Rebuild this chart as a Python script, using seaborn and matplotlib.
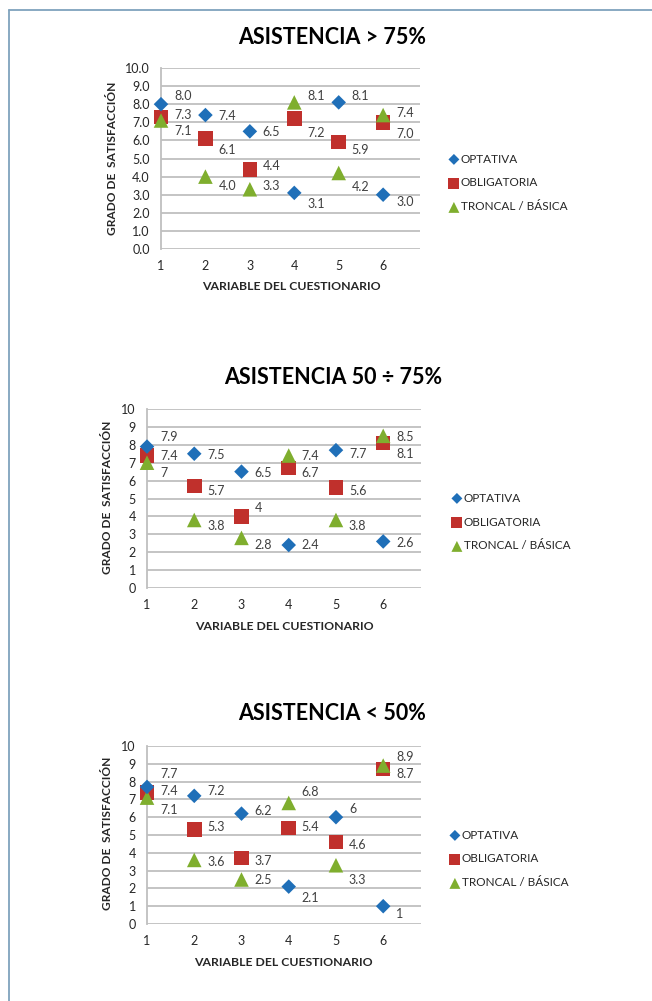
import pandas as pd
import matplotlib
matplotlib.use('Agg')
import matplotlib.pyplot as plt
import seaborn as sns
from matplotlib.lines import Line2D

sns.set_style('white')
plt.rcParams['font.family'] = ['Lato', 'DejaVu Sans']

variables = [1, 2, 3, 4, 5, 6]
series_names = ['OPTATIVA', 'OBLIGATORIA', 'TRONCAL / BÁSICA']

titles = ['ASISTENCIA > 75%', 'ASISTENCIA 50 ÷ 75%', 'ASISTENCIA < 50%']
# asistencia > 75%
opt_75 = [8.0, 7.4, 6.5, 3.1, 8.1, 3.0]
obl_75 = [7.3, 6.1, 4.4, 7.2, 5.9, 7.0]
tro_75 = [7.1, 4.0, 3.3, 8.1, 4.2, 7.4]
# asistencia 50-75%
opt_50 = [7.9, 7.5, 6.5, 2.4, 7.7, 2.6]
obl_50 = [7.4, 5.7, 4, 6.7, 5.6, 8.1]
tro_50 = [7, 3.8, 2.8, 7.4, 3.8, 8.5]
# asistencia < 50%
opt_lt = [7.7, 7.2, 6.2, 2.1, 6, 1]
obl_lt = [7.4, 5.3, 3.7, 5.4, 4.6, 8.7]
tro_lt = [7.1, 3.6, 2.5, 6.8, 3.3, 8.9]

# label text as printed in each chart
fmt = ['{:.1f}', '{:g}', '{:g}']

# vertical offset (pixels, down positive) of each data label
lab_dy = [
    [[-8, 1, 1, 11, -6, 7], [-2, 11, -3, 14, 8, 12], [11, 9, -3, -6, 14, -2]],
    [[-10, 1, 1, 0, 4, 2], [0, 5, -8, 5, 3, 11], [10, 6, 7, 0, 6, 1]],
    [[-13, -5, -3, 11, -8, 8], [-1, -3, 3, -1, 3, 5], [12, 2, 1, -11, 15, -9]],
]

colors = ['#1f6fb8', '#c0302c', '#7fae2e']
markers = ['D', 's', '^']
sizes = [55, 110, 110]

W, H = 652, 1001
fig = plt.figure(figsize=(W / 100, H / 100), dpi=100)

# axes boxes in pixels: left, top, right, bottom, xmax
boxes = [(161, 68, 420, 249, 6.83), (147, 409, 421, 588, 6.8), (147, 746, 421, 924, 6.8)]
title_pos = [(332, 38), (333, 378), (332, 714)]
ylab_pos = [(113, 158), (108, 497), (108, 833)]
xlab_pos = [(291, 287), (284, 627), (283, 963)]
leg_pos = [(448, 183), (451, 522), (449, 859)]

data = [[opt_75, obl_75, tro_75], [opt_50, obl_50, tro_50], [opt_lt, obl_lt, tro_lt]]

for k in range(3):
    l, t, r, b, xmax = boxes[k]
    ax = fig.add_axes([l / W, 1 - b / H, (r - l) / W, (b - t) / H])
    rows = []
    for name, vals in zip(series_names, data[k]):
        for x, v in zip(variables, vals):
            rows.append({'variable': x, 'valor': v, 'tipo': name})
    df = pd.DataFrame(rows)

    for i, name in enumerate(series_names):
        sub = df[df['tipo'] == name]
        sns.scatterplot(data=sub, x='variable', y='valor', ax=ax, color=colors[i],
                        marker=markers[i], s=sizes[i], edgecolor='none', label=name,
                        zorder=5 if i == 0 else 3, clip_on=False)
        for j, (x, v) in enumerate(zip(sub['variable'], sub['valor'])):
            ax.annotate(fmt[k].format(v), (x, v), xytext=(13, -lab_dy[k][i][j]),
                        textcoords='offset pixels', ha='left', va='center',
                        fontsize=9, color='#404040')

    ax.set_xlim(1, xmax)
    ax.set_ylim(0, 10)
    ax.set_xticks(variables)
    ax.set_yticks(range(0, 11))
    if k == 0:
        ax.set_yticklabels(['{:.1f}'.format(v) for v in range(0, 11)])
    ax.grid(axis='y', color='#bfbfbf', linewidth=1.3)
    ax.set_axisbelow(True)
    for s in ['top', 'right', 'bottom']:
        ax.spines[s].set_visible(False)
    ax.spines['left'].set_color('#bfbfbf')
    ax.spines['left'].set_linewidth(1.3)
    ax.tick_params(length=0, labelsize=9, labelcolor='#262626', pad=8)
    ax.set_xlabel('')
    ax.set_ylabel('')

    handles, labels = ax.get_legend_handles_labels()
    lx, ly = leg_pos[k]
    ax.legend(handles, labels, loc='center left', bbox_to_anchor=(lx / W, 1 - ly / H),
              bbox_transform=fig.transFigure, frameon=False, fontsize=8.5,
              handlelength=1.0, handletextpad=0.1, labelspacing=1.1,
              borderpad=0, borderaxespad=0, markerscale=0.75, labelcolor='#262626')

    tx, ty = title_pos[k]
    fig.text(tx / W, 1 - ty / H, titles[k], ha='center', va='center',
             fontsize=15.5, fontweight='bold', color='black')
    yx, yy = ylab_pos[k]
    fig.text(yx / W, 1 - yy / H, 'GRADO DE  SATISFACCIÓN', rotation=90, ha='center',
             va='center', fontsize=8.6, fontweight='bold', color='#262626')
    xx, xy = xlab_pos[k]
    fig.text(xx / W, 1 - xy / H, 'VARIABLE DEL CUESTIONARIO', ha='center', va='center',
             fontsize=8.8, fontweight='bold', color='#262626')

# page frame
fig.add_artist(Line2D([9 / W, 1], [1 - 10 / H, 1 - 10 / H], color='#7fa3bd', linewidth=1.3,
                      transform=fig.transFigure))
fig.add_artist(Line2D([9 / W, 9 / W], [1 - 10 / H, 0], color='#7fa3bd', linewidth=1.3,
                      transform=fig.transFigure))

fig.savefig('out.png', dpi=100)
